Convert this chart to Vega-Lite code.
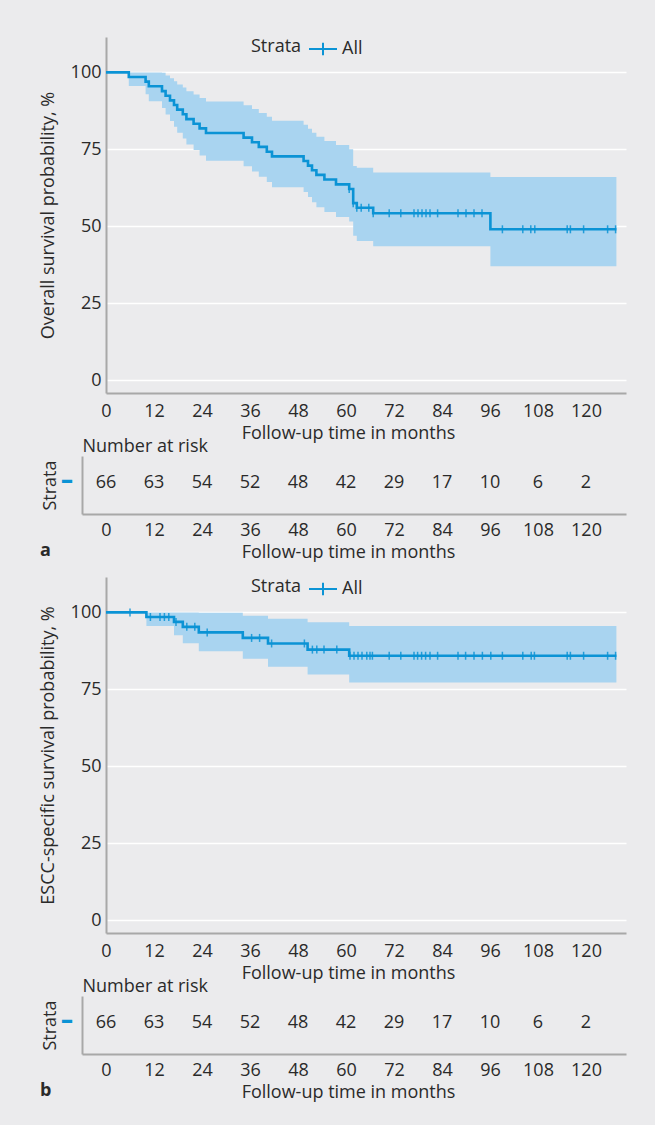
{
  "$schema": "https://vega.github.io/schema/vega-lite/v6.json",
  "background": "#ebebed",
  "padding": {"left": 39, "top": 34, "right": 27, "bottom": 24},
  "spacing": 63,
  "bounds": "flush",
  "resolve": {"scale": {"x": "independent", "y": "independent", "color": "independent"}, "legend": {"color": "independent"}},
  "datasets": {
    "surv_a": [
      {"t": 0, "s": 100, "lo": 100, "hi": 100},
      {"t": 5.7, "s": 98.5, "lo": 95.6, "hi": 100},
      {"t": 9.9, "s": 97.0, "lo": 92.9, "hi": 100},
      {"t": 10.7, "s": 95.5, "lo": 90.6, "hi": 100},
      {"t": 14.0, "s": 93.9, "lo": 88.4, "hi": 99.9},
      {"t": 14.9, "s": 92.4, "lo": 86.3, "hi": 99.0},
      {"t": 16.0, "s": 90.9, "lo": 84.2, "hi": 98.1},
      {"t": 17.0, "s": 89.4, "lo": 82.3, "hi": 97.1},
      {"t": 17.8, "s": 87.9, "lo": 80.4, "hi": 96.1},
      {"t": 19.2, "s": 86.4, "lo": 78.5, "hi": 95.1},
      {"t": 20.1, "s": 84.8, "lo": 76.6, "hi": 93.9},
      {"t": 21.9, "s": 83.3, "lo": 74.8, "hi": 92.8},
      {"t": 23.4, "s": 81.8, "lo": 73.0, "hi": 91.7},
      {"t": 25.0, "s": 80.3, "lo": 71.3, "hi": 90.5},
      {"t": 34.4, "s": 78.8, "lo": 69.5, "hi": 89.3},
      {"t": 36.5, "s": 77.3, "lo": 67.8, "hi": 88.1},
      {"t": 38.2, "s": 75.8, "lo": 66.1, "hi": 86.8},
      {"t": 40.2, "s": 74.2, "lo": 64.4, "hi": 85.6},
      {"t": 41.5, "s": 72.7, "lo": 62.7, "hi": 84.3},
      {"t": 49.4, "s": 71.2, "lo": 61.1, "hi": 83.0},
      {"t": 50.5, "s": 69.7, "lo": 59.5, "hi": 81.7},
      {"t": 51.5, "s": 68.2, "lo": 57.8, "hi": 80.4},
      {"t": 52.6, "s": 66.7, "lo": 56.2, "hi": 79.1},
      {"t": 54.6, "s": 65.2, "lo": 54.6, "hi": 77.7},
      {"t": 57.5, "s": 63.6, "lo": 53.0, "hi": 76.4},
      {"t": 60.8, "s": 62.1, "lo": 51.5, "hi": 75.0},
      {"t": 61.8, "s": 57.5, "lo": 46.9, "hi": 69.6},
      {"t": 62.7, "s": 56.0, "lo": 45.2, "hi": 69.0},
      {"t": 66.8, "s": 54.2, "lo": 43.5, "hi": 67.5},
      {"t": 96.1, "s": 49.0, "lo": 37.0, "hi": 66.0},
      {"t": 127.6, "s": 49.0, "lo": 37.0, "hi": 66.0}
    ],
    "cens_a": [
      {"t": 60.8, "s": 62.1}, {"t": 61.8, "s": 57.5}, {"t": 62.7, "s": 56.0}, {"t": 63.8, "s": 56.0}, {"t": 65.7, "s": 56.0},
      {"t": 66.8, "s": 54.2}, {"t": 70.8, "s": 54.2}, {"t": 73.7, "s": 54.2}, {"t": 77.0, "s": 54.2}, {"t": 78.0, "s": 54.2},
      {"t": 79.0, "s": 54.2}, {"t": 80.0, "s": 54.2}, {"t": 81.0, "s": 54.2}, {"t": 82.9, "s": 54.2}, {"t": 88.0, "s": 54.2},
      {"t": 90.0, "s": 54.2}, {"t": 92.0, "s": 54.2}, {"t": 94.0, "s": 54.2},
      {"t": 99.1, "s": 49.0}, {"t": 104.2, "s": 49.0}, {"t": 106.2, "s": 49.0}, {"t": 107.2, "s": 49.0}, {"t": 115.3, "s": 49.0},
      {"t": 116.1, "s": 49.0}, {"t": 119.4, "s": 49.0}, {"t": 125.4, "s": 49.0}, {"t": 127.4, "s": 49.0}
    ],
    "surv_b": [
      {"t": 0, "s": 100, "lo": 100, "hi": 100},
      {"t": 10.1, "s": 98.5, "lo": 95.6, "hi": 100},
      {"t": 17.0, "s": 96.9, "lo": 92.6, "hi": 100},
      {"t": 19.2, "s": 95.3, "lo": 90.0, "hi": 100},
      {"t": 23.2, "s": 93.5, "lo": 87.4, "hi": 99.9},
      {"t": 34.2, "s": 91.7, "lo": 84.9, "hi": 98.9},
      {"t": 40.5, "s": 89.9, "lo": 82.3, "hi": 97.9},
      {"t": 50.4, "s": 87.9, "lo": 79.8, "hi": 96.8},
      {"t": 60.8, "s": 85.9, "lo": 77.2, "hi": 95.6},
      {"t": 127.6, "s": 85.9, "lo": 77.2, "hi": 95.6}
    ],
    "cens_b": [
      {"t": 6.0, "s": 100}, {"t": 11.1, "s": 98.5}, {"t": 13.5, "s": 98.5}, {"t": 14.6, "s": 98.5}, {"t": 15.7, "s": 98.5},
      {"t": 17.5, "s": 96.9}, {"t": 20.2, "s": 95.3}, {"t": 22.2, "s": 95.3}, {"t": 25.3, "s": 93.5},
      {"t": 36.4, "s": 91.7}, {"t": 38.4, "s": 91.7}, {"t": 41.4, "s": 89.9}, {"t": 49.6, "s": 89.9},
      {"t": 51.6, "s": 87.9}, {"t": 52.7, "s": 87.9}, {"t": 54.5, "s": 87.9}, {"t": 57.7, "s": 87.9},
      {"t": 61.0, "s": 85.9}, {"t": 62.0, "s": 85.9}, {"t": 63.0, "s": 85.9}, {"t": 64.0, "s": 85.9}, {"t": 65.2, "s": 85.9},
      {"t": 66.0, "s": 85.9}, {"t": 66.6, "s": 85.9}, {"t": 70.8, "s": 85.9}, {"t": 73.7, "s": 85.9}, {"t": 77.0, "s": 85.9},
      {"t": 77.9, "s": 85.9}, {"t": 78.9, "s": 85.9}, {"t": 79.9, "s": 85.9}, {"t": 81.0, "s": 85.9}, {"t": 82.9, "s": 85.9},
      {"t": 88.0, "s": 85.9}, {"t": 89.9, "s": 85.9}, {"t": 92.0, "s": 85.9}, {"t": 94.1, "s": 85.9}, {"t": 96.2, "s": 85.9},
      {"t": 99.1, "s": 85.9}, {"t": 104.2, "s": 85.9}, {"t": 106.3, "s": 85.9}, {"t": 107.1, "s": 85.9}, {"t": 115.3, "s": 85.9},
      {"t": 116.1, "s": 85.9}, {"t": 119.4, "s": 85.9}, {"t": 125.4, "s": 85.9}, {"t": 127.4, "s": 85.9}
    ],
    "risk": [
      {"t": 0, "n": 66, "strata": "All"}, {"t": 12, "n": 63, "strata": "All"}, {"t": 24, "n": 54, "strata": "All"},
      {"t": 36, "n": 52, "strata": "All"}, {"t": 48, "n": 48, "strata": "All"}, {"t": 60, "n": 42, "strata": "All"},
      {"t": 72, "n": 29, "strata": "All"}, {"t": 84, "n": 17, "strata": "All"}, {"t": 96, "n": 10, "strata": "All"},
      {"t": 108, "n": 6, "strata": "All"}, {"t": 120, "n": 2, "strata": "All"}
    ]
  },
  "vconcat": [
    {
      "width": 520, "height": 356,
      "encoding": {
        "x": {"field": "t", "type": "quantitative", "title": "Follow-up time in months",
          "scale": {"domain": [0, 130], "nice": false, "zero": false},
          "axis": {"values": [0, 12, 24, 36, 48, 60, 72, 84, 96, 108, 120], "grid": false, "labelFlush": false, "labelPadding": 9, "titlePadding": 4, "titleX": 242}}
      },
      "layer": [
        {"data": {"name": "surv_a"}, "mark": {"type": "area", "interpolate": "step-after", "color": "#a9d4f0"},
          "encoding": {"y": {"field": "lo", "type": "quantitative", "title": "Overall survival probability, %",
            "scale": {"domain": [-4.2, 111.5], "nice": false, "zero": false},
            "axis": {"values": [0, 25, 50, 75, 100], "grid": true, "labelPadding": 5, "titlePadding": 12.5}},
            "y2": {"field": "hi"}}},
        {"data": {"name": "surv_a"}, "mark": {"type": "line", "interpolate": "step-after", "strokeWidth": 2.6},
          "encoding": {"y": {"field": "s", "type": "quantitative", "title": "Overall survival probability, %"},
            "color": {"datum": "All", "type": "nominal", "scale": {"range": ["#0b93d5"]},
              "legend": {"title": "Strata", "orient": "none", "legendX": 145, "legendY": -3, "direction": "horizontal", "titleOrient": "left"}}}},
        {"data": {"name": "cens_a"}, "mark": {"type": "tick", "orient": "vertical", "size": 8, "thickness": 1.5, "color": "#0b93d5", "opacity": 0.85},
          "encoding": {"y": {"field": "s", "type": "quantitative", "title": "Overall survival probability, %"}}}
      ]
    },
    {
      "width": 520, "height": 58,
      "title": {"text": "a", "orient": "bottom", "anchor": "start", "frame": "group", "dx": -66, "offset": -19, "fontWeight": "bold"},
      "data": {"name": "risk"},
      "layer": [
        {"mark": {"type": "text", "dy": -2},
          "encoding": {
            "x": {"field": "t", "type": "quantitative", "title": "Follow-up time in months",
              "scale": {"domain": [-6, 130], "range": [-24, 520], "nice": false, "zero": false},
              "axis": {"orient": "bottom", "values": [0, 12, 24, 36, 48, 60, 72, 84, 96, 108, 120], "grid": false, "labelFlush": false, "labelPadding": 7, "titlePadding": 4, "titleX": 242}},
            "y": {"field": "strata", "type": "nominal", "title": "Strata",
              "axis": {"offset": 24, "labelExpr": "'–'", "labelFont": "DejaVu Sans", "labelColor": "#0b93d5", "labelFontSize": 26, "labelFontWeight": "bold", "labelOffset": -5, "labelPadding": 9, "titlePadding": 1, "grid": false}},
            "text": {"field": "n"}}},
        {"mark": {"type": "text", "opacity": 0},
          "encoding": {
            "x": {"field": "t", "type": "quantitative", "title": "Number at risk",
              "axis": {"orient": "top", "labels": false, "domain": false, "grid": false, "titleAnchor": "start", "titlePadding": 1}},
            "text": {"field": "n"}}}
      ],
      "resolve": {"axis": {"x": "independent"}}
    },
    {
      "width": 520, "height": 356,
      "encoding": {
        "x": {"field": "t", "type": "quantitative", "title": "Follow-up time in months",
          "scale": {"domain": [0, 130], "nice": false, "zero": false},
          "axis": {"values": [0, 12, 24, 36, 48, 60, 72, 84, 96, 108, 120], "grid": false, "labelFlush": false, "labelPadding": 9, "titlePadding": 4, "titleX": 242}}
      },
      "layer": [
        {"data": {"name": "surv_b"}, "mark": {"type": "area", "interpolate": "step-after", "color": "#a9d4f0"},
          "encoding": {"y": {"field": "lo", "type": "quantitative", "title": "ESCC-specific survival probability, %",
            "scale": {"domain": [-4.2, 111.5], "nice": false, "zero": false},
            "axis": {"values": [0, 25, 50, 75, 100], "grid": true, "labelPadding": 5, "titlePadding": 12.5}},
            "y2": {"field": "hi"}}},
        {"data": {"name": "surv_b"}, "mark": {"type": "line", "interpolate": "step-after", "strokeWidth": 2.6},
          "encoding": {"y": {"field": "s", "type": "quantitative", "title": "ESCC-specific survival probability, %"},
            "color": {"datum": "All", "type": "nominal", "scale": {"range": ["#0b93d5"]},
              "legend": {"title": "Strata", "orient": "none", "legendX": 145, "legendY": -3, "direction": "horizontal", "titleOrient": "left"}}}},
        {"data": {"name": "cens_b"}, "mark": {"type": "tick", "orient": "vertical", "size": 8, "thickness": 1.5, "color": "#0b93d5", "opacity": 0.85},
          "encoding": {"y": {"field": "s", "type": "quantitative", "title": "ESCC-specific survival probability, %"}}}
      ]
    },
    {
      "width": 520, "height": 58,
      "title": {"text": "b", "orient": "bottom", "anchor": "start", "frame": "group", "dx": -66, "offset": -19, "fontWeight": "bold"},
      "data": {"name": "risk"},
      "layer": [
        {"mark": {"type": "text", "dy": -2},
          "encoding": {
            "x": {"field": "t", "type": "quantitative", "title": "Follow-up time in months",
              "scale": {"domain": [-6, 130], "range": [-24, 520], "nice": false, "zero": false},
              "axis": {"orient": "bottom", "values": [0, 12, 24, 36, 48, 60, 72, 84, 96, 108, 120], "grid": false, "labelFlush": false, "labelPadding": 7, "titlePadding": 4, "titleX": 242}},
            "y": {"field": "strata", "type": "nominal", "title": "Strata",
              "axis": {"offset": 24, "labelExpr": "'–'", "labelFont": "DejaVu Sans", "labelColor": "#0b93d5", "labelFontSize": 26, "labelFontWeight": "bold", "labelOffset": -5, "labelPadding": 9, "titlePadding": 1, "grid": false}},
            "text": {"field": "n"}}},
        {"mark": {"type": "text", "opacity": 0},
          "encoding": {
            "x": {"field": "t", "type": "quantitative", "title": "Number at risk",
              "axis": {"orient": "top", "labels": false, "domain": false, "grid": false, "titleAnchor": "start", "titlePadding": 1}},
            "text": {"field": "n"}}}
      ],
      "resolve": {"axis": {"x": "independent"}}
    }
  ],
  "config": {
    "font": "Open Sans",
    "view": {"stroke": null},
    "axis": {
      "domainColor": "#a8a8a8", "domainWidth": 2, "ticks": false,
      "labelFont": "Open Sans", "titleFont": "Open Sans",
      "labelFontSize": 18, "titleFontSize": 18, "titleFontWeight": "normal",
      "labelColor": "#2a2a2a", "titleColor": "#2a2a2a",
      "gridColor": "#ffffff", "gridWidth": 1.6, "gridOpacity": 1
    },
    "text": {"font": "Open Sans", "fontSize": 18, "color": "#2a2a2a"},
    "title": {"font": "Open Sans", "fontSize": 18, "color": "#2a2a2a"},
    "legend": {
      "titleFont": "Open Sans", "labelFont": "Open Sans",
      "titleFontSize": 18, "labelFontSize": 18, "titleFontWeight": "normal",
      "titleColor": "#2a2a2a", "labelColor": "#2a2a2a", "titleBaseline": "middle", "titleAnchor": "middle",
      "symbolType": "M-1,0H1M0,-0.45V0.45", "symbolSize": 784, "symbolStrokeWidth": 2,
      "labelOffset": 4, "titlePadding": 6
    }
  }
}
